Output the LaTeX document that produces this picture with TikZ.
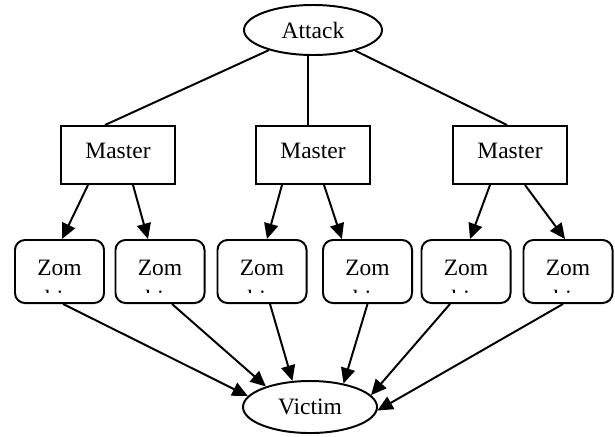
\documentclass[tikz,border=0pt]{standalone}
\usepackage{fontspec}
\setmainfont{Liberation Serif}
\usetikzlibrary{shapes.geometric,arrows.meta}

\begin{document}
\begin{tikzpicture}[
        x=0.025cm, y=-0.025cm, line width=1.4pt,
        word/.style={font=\fontsize{16.7}{20}\selectfont},
        oval/.style={word, ellipse, draw, inner sep=0pt},
        master/.style={word, rectangle, draw, minimum width=2.85cm, minimum height=1.45cm, text depth=0.2cm},
        zombie/.style={word, rectangle, draw, rounded corners=0.25cm, minimum width=2.225cm, minimum height=1.575cm, text depth=0.2cm},
        arrow/.style={-{Triangle[length=11pt, width=10pt]}}
    ]
        \useasboundingbox (0, 0) rectangle (615, 436);

        % Nodes
        \node[oval, minimum width=3.45cm, minimum height=1.25cm] (att) at (313, 30) {Attack};
        \node[master] (m1) at (118, 155) {Master};
        \node[master] (m2) at (313, 155) {Master};
        \node[master] (m3) at (510, 155) {Master};
        \foreach \n/\x in {1/59.5, 2/160, 3/262, 4/367.5, 5/466, 6/568} {
            \node[zombie] (z\n) at (\x, 271.5) {Zom};
            \begin{scope}
                \clip (z\n.north west) rectangle ([yshift=0.29cm]z\n.south east);
                \node[word, anchor=base] (zb\n) at ([yshift=-0.775cm]z\n.base) {bie};
            \end{scope}
        }
        \node[oval, minimum width=3.35cm, minimum height=1.3cm] (vic) at (310, 407) {Victim};

        % Lines
        \draw (att) -- ([xshift=-0.325cm]m1.north);
        \draw ([xshift=-0.125cm]att.south) -- ([xshift=-0.125cm]m2.north);
        \draw (att) -- ([xshift=-0.075cm]m3.north);

        % Arrows
        \draw[arrow] ([xshift=-0.75cm]m1.south) -- ([xshift=0.0625cm]z1.north);
        \draw[arrow] ([xshift=0.375cm]m1.south) -- ([xshift=-0.3cm]z2.north);
        \draw[arrow] ([xshift=-0.775cm]m2.south) -- ([xshift=0.125cm]z3.north);
        \draw[arrow] ([xshift=0.275cm]m2.south) -- ([xshift=-0.64cm]z4.north);
        \draw[arrow] ([xshift=-0.5cm]m3.south) -- ([xshift=0.1cm]z5.north);
        \draw[arrow] ([xshift=0.375cm]m3.south) -- ([xshift=-0.075cm]z6.north);

        \draw[arrow] ([xshift=0.09cm]z1.south) -- (vic.170);
        \draw[arrow] ([xshift=0.3cm]z2.south) -- (vic.155);
        \draw[arrow] ([xshift=0.2cm]z3.south) -- (vic.124);
        \draw[arrow] (z4.south) -- (vic.35);
        \draw[arrow] ([xshift=-0.4cm]z5.south) -- (vic.11);
        \draw[arrow] ([xshift=-0.125cm]z6.south) -- (vic.-3);
    \end{tikzpicture}
\end{document}
